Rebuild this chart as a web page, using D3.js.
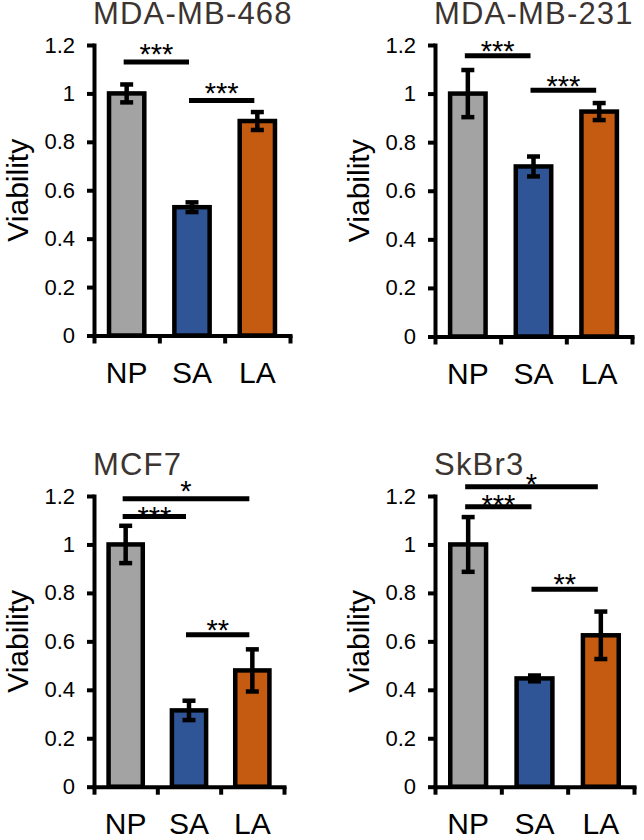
<!DOCTYPE html>
<html>
<head>
<meta charset="utf-8">
<script src="https://cdn.jsdelivr.net/npm/d3@7"></script>
<style>
  html, body { margin: 0; padding: 0; background: #fff; }
  svg { display: block; }
  text { font-family: "Liberation Sans", Arial, Helvetica, sans-serif; }
</style>
</head>
<body>
<svg id="chart" width="644" height="840"></svg>
<script>
// ---------- DATA ----------
const categories = ["NP", "SA", "LA"];
const cellLines = ["MDA-MB-468", "MDA-MB-231", "MCF7", "SkBr3"];
const barColors = ["#a3a3a3", "#2f5597", "#c55a11"];

const yTicks = [0, 0.2, 0.4, 0.6, 0.8, 1.0, 1.2];
const yTickLabels = ["0", "0.2", "0.4", "0.6", "0.8", "1", "1.2"];
const yAxisTitle = "Viability";

const viability468 = [1.0, 0.53, 0.886];
const error468 = [0.037, 0.02, 0.037];
const viability231 = [1.0, 0.70, 0.926];
const error231 = [0.097, 0.041, 0.035];
const viabilityMCF7 = [1.0, 0.315, 0.48];
const errorMCF7 = [0.077, 0.04, 0.087];
const viabilitySkBr3 = [1.0, 0.447, 0.625];
const errorSkBr3 = [0.113, 0.012, 0.098];

// significance brackets: from/to category index, bar level and label level (data units)
const sig468 = [
  { from: 0, to: 1, level: 1.13, labelLevel: 1.123, label: "***" },
  { from: 1, to: 2, level: 0.971, labelLevel: 0.962, label: "***" }
];
const sig231 = [
  { from: 0, to: 1, level: 1.156, labelLevel: 1.135, label: "***" },
  { from: 1, to: 2, level: 1.014, labelLevel: 0.99, label: "***" }
];
const sigMCF7 = [
  { from: 0, to: 2, level: 1.189, labelLevel: 1.18, label: "*" },
  { from: 0, to: 1, level: 1.115, labelLevel: 1.07, label: "***" },
  { from: 1, to: 2, level: 0.627, labelLevel: 0.607, label: "**" }
];
const sigSkBr3 = [
  { from: 0, to: 2, level: 1.238, labelLevel: 1.209, label: "*" },
  { from: 0, to: 1, level: 1.156, labelLevel: 1.12, label: "***" },
  { from: 1, to: 2, level: 0.815, labelLevel: 0.796, label: "**" }
];

const panelValues = [viability468, viability231, viabilityMCF7, viabilitySkBr3];
const panelErrors = [error468, error231, errorMCF7, errorSkBr3];
const panelSig = [sig468, sig231, sigMCF7, sigSkBr3];

// ---------- LAYOUT ----------
const layout = [
  { x0: 94,  x1: 290, yBottom: 335.5, yTop: 45 },
  { x0: 435, x1: 632, yBottom: 336.5, yTop: 45 },
  { x0: 94,  x1: 284, yBottom: 786.7, yTop: 496 },
  { x0: 435, x1: 634, yBottom: 786.7, yTop: 496 }
];

const svg = d3.select("#chart");
svg.append("rect").attr("width", 644).attr("height", 840).attr("fill", "#fff");

const AXIS_W = 4;
const BAR_STROKE = 4.5;

cellLines.forEach((name, p) => {
  const L = layout[p];
  const values = panelValues[p];
  const errs = panelErrors[p];
  const sigs = panelSig[p];
  const g = svg.append("g");

  const y = d3.scaleLinear().domain([0, 1.2]).range([L.yBottom, L.yTop]);
  const x = d3.scaleBand().domain(categories).range([L.x0, L.x1]).padding(0);
  const bw = x.bandwidth();
  const barW = bw * 0.54;
  const cx = c => x(c) + bw / 2;

  // bars
  g.selectAll("rect.bar")
    .data(values)
    .join("rect")
    .attr("class", "bar")
    .attr("x", (d, i) => cx(categories[i]) - barW / 2)
    .attr("y", d => y(d))
    .attr("width", barW)
    .attr("height", d => y(0) - y(d))
    .attr("fill", (d, i) => barColors[i])
    .attr("stroke", "#000")
    .attr("stroke-width", BAR_STROKE);

  // error bars
  const eb = g.selectAll("g.err")
    .data(values.map((v, i) => ({ v, e: errs[i], c: categories[i] })))
    .join("g").attr("class", "err");
  eb.append("line")
    .attr("x1", d => cx(d.c)).attr("x2", d => cx(d.c))
    .attr("y1", d => y(d.v + d.e)).attr("y2", d => y(d.v - d.e))
    .attr("stroke", "#000").attr("stroke-width", 4.5);
  [1, -1].forEach(s => {
    eb.append("line")
      .attr("x1", d => cx(d.c) - 6.5).attr("x2", d => cx(d.c) + 6.5)
      .attr("y1", d => y(d.v + s * d.e)).attr("y2", d => y(d.v + s * d.e))
      .attr("stroke", "#000").attr("stroke-width", 4.5);
  });

  // y axis
  const ya = g.append("g")
    .attr("transform", `translate(${L.x0},0)`)
    .call(d3.axisLeft(y).tickValues(yTicks).tickSize(7).tickSizeOuter(0).tickPadding(12)
      .tickFormat((d, i) => yTickLabels[i]));
  ya.select(".domain").attr("stroke-width", AXIS_W).attr("stroke-linecap", "square");
  ya.selectAll(".tick line").attr("stroke-width", AXIS_W);
  ya.selectAll(".tick text").attr("font-size", 22).attr("fill", "#000")
    .attr("font-family", "'Liberation Sans', Arial, sans-serif");

  // x axis line with boundary ticks
  const xb = d3.scaleLinear().domain([0, categories.length]).range([L.x0, L.x1]);
  const xa = g.append("g")
    .attr("transform", `translate(0,${y(0)})`)
    .call(d3.axisBottom(xb).tickValues(d3.range(categories.length + 1)).tickSize(8).tickSizeOuter(0).tickFormat(""));
  xa.select(".domain").attr("stroke-width", AXIS_W).attr("stroke-linecap", "square");
  xa.selectAll(".tick line").attr("stroke-width", AXIS_W);

  // category labels
  const xl = g.append("g")
    .attr("transform", `translate(0,${y(0)})`)
    .call(d3.axisBottom(x).tickSize(0).tickPadding(26));
  xl.select(".domain").remove();
  xl.selectAll(".tick text").attr("font-size", 30).attr("fill", "#000")
    .attr("font-family", "'Liberation Sans', Arial, sans-serif");

  // y axis title
  g.append("text")
    .attr("transform", `translate(${L.x0 - 66},${(L.yBottom + L.yTop) / 2}) rotate(-90)`)
    .attr("text-anchor", "middle")
    .attr("font-size", 30)
    .attr("fill", "#000")
    .text(yAxisTitle);

  // panel title
  g.append("text")
    .attr("x", L.x0 - 1)
    .attr("y", L.yTop - 21)
    .attr("font-size", 31)
    .attr("letter-spacing", 1.2)
    .attr("fill", "#3b3431")
    .text(name);

  // significance brackets
  sigs.forEach(s => {
    const xa1 = cx(categories[s.from]) - 3;
    const xa2 = cx(categories[s.to]) - 3;
    g.append("line")
      .attr("x1", xa1).attr("x2", xa2)
      .attr("y1", y(s.level)).attr("y2", y(s.level))
      .attr("stroke", "#000").attr("stroke-width", 5);
    g.append("text")
      .attr("x", (xa1 + xa2) / 2)
      .attr("y", y(s.labelLevel))
      .attr("text-anchor", "middle")
      .attr("font-size", 29)
      .attr("fill", "#000")
      .text(s.label);
  });
});
</script>
</body>
</html>
